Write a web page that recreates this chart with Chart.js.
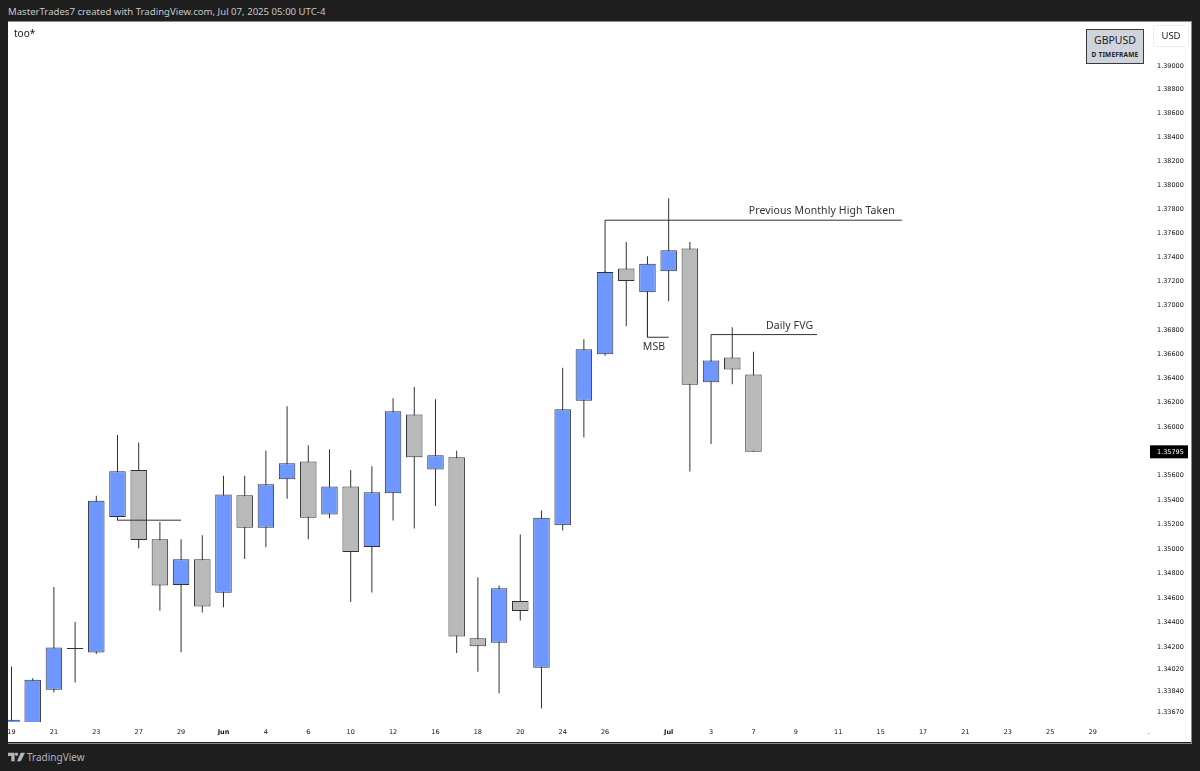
<!DOCTYPE html>
<html>
<head>
<meta charset="utf-8">
<title>GBPUSD D</title>
<script src="https://cdn.jsdelivr.net/npm/chart.js@4/dist/chart.umd.min.js"></script>
<style>
    html, body { margin: 0; padding: 0; width: 1200px; height: 771px; background: #1e1e1e; overflow: hidden; }
    #header { position: absolute; left: 8px; top: 5px; color: #c8c8c8; font: 9.6px 'Noto Sans', sans-serif; white-space: nowrap; }
    #frame { position: absolute; left: 8px; top: 22px; width: 1183px; height: 720px; background: #fff; overflow: hidden; }
    #edge { position: absolute; left: 8px; top: 21px; width: 1183px; height: 721px; border: 1px solid #8a8a8a; border-left: 0; pointer-events: none; }
    #chart { display: block; }
    #title { position: absolute; left: 14px; top: 26px; color: #131722; font: 10px 'Noto Sans', sans-serif; }
    #symbol { position: absolute; left: 1086px; top: 29px; width: 56px; height: 33px; background: #cfd3dc; border: 1px solid #3a3a3a; text-align: center; color: #222; }
    #symbol .pair { font: 10.5px/20px 'Noto Sans', sans-serif; }
    #symbol .tf { font: bold 6.5px/10px 'Noto Sans', sans-serif; letter-spacing: 0.2px; }
    #currency { position: absolute; left: 1153px; top: 25px; width: 34px; height: 20px; border: 1px solid #eee; border-radius: 3px; text-align: center; color: #222; font: 9.5px/20px 'Noto Sans', sans-serif; }
    #footer { position: absolute; left: 27px; top: 749px; color: #b2b5be; font: 10px/16px 'Noto Sans', sans-serif; }
    #logo { position: absolute; left: 8px; top: 752px; }
</style>
</head>
<body>
<div id="header">MasterTrades7 created with TradingView.com, Jul 07, 2025 05:00 UTC-4</div>
<div id="frame"><canvas id="chart" width="1183" height="720"></canvas></div>
<div id="edge"></div>
<div id="title">too*</div>
<div id="symbol"><div class="pair">GBPUSD</div><div class="tf">D TIMEFRAME</div></div>
<div id="currency">USD</div>
<svg id="logo" width="17" height="10" viewBox="0 0 36 20"><path fill="#b2b5be" d="M0 1h14v18H7V8H0zM16 1h20l-9 18h-8l8-18h-7a3.500 3.500 0 1 1-4 0z"/></svg>
<div id="footer">TradingView</div>
<script>
// one entry per trading day, May 19 to Jul 7 2025
const days = ['May 19', 'May 20', 'May 21', 'May 22', 'May 23', 'May 26', 'May 27', 'May 28', 'May 29', 'May 30',
    'Jun 2', 'Jun 3', 'Jun 4', 'Jun 5', 'Jun 6', 'Jun 9', 'Jun 10', 'Jun 11', 'Jun 12', 'Jun 13',
    'Jun 16', 'Jun 17', 'Jun 18', 'Jun 19', 'Jun 20', 'Jun 23', 'Jun 24', 'Jun 25', 'Jun 26', 'Jun 27',
    'Jun 30', 'Jul 1', 'Jul 2', 'Jul 3', 'Jul 4', 'Jul 7'];
const opens = [1.33300, 1.33550, 1.33855, 1.34193, 1.34157, 1.35260, 1.35645, 1.35079, 1.34707, 1.34916,
    1.34642, 1.35440, 1.35174, 1.35571, 1.35715, 1.35281, 1.35510, 1.35016, 1.35456, 1.36101,
    1.35649, 1.35751, 1.34274, 1.34236, 1.34575, 1.34033, 1.35194, 1.36214, 1.36599, 1.37308,
    1.37111, 1.37286, 1.37474, 1.36368, 1.36571, 1.36431];
const highs = [1.34043, 1.33948, 1.34689, 1.34407, 1.35434, 1.35934, 1.35871, 1.35221, 1.35079, 1.35112,
    1.35598, 1.35598, 1.35803, 1.36170, 1.35849, 1.35817, 1.35645, 1.35677, 1.36236, 1.36329,
    1.36228, 1.35803, 1.34770, 1.34702, 1.35117, 1.35314, 1.36486, 1.36723, 1.37288, 1.37529,
    1.37411, 1.37893, 1.37529, 1.36552, 1.36822, 1.36620];
const lows = [1.33200, 1.33450, 1.33833, 1.33914, 1.34146, 1.35232, 1.35006, 1.34496, 1.34160, 1.34482,
    1.34526, 1.34919, 1.35014, 1.35410, 1.35079, 1.35251, 1.34567, 1.34645, 1.35232, 1.35166,
    1.35350, 1.34154, 1.34002, 1.33828, 1.34417, 1.33704, 1.35150, 1.35912, 1.36587, 1.36830,
    1.37106, 1.37037, 1.35633, 1.35860, 1.36351, 1.35795];
const closes = [1.33613, 1.33936, 1.34198, 1.34185, 1.35393, 1.35636, 1.35074, 1.34702, 1.34916, 1.34531,
    1.35445, 1.35174, 1.35530, 1.35702, 1.35254, 1.35510, 1.34976, 1.35464, 1.36129, 1.35751,
    1.35767, 1.34287, 1.34209, 1.34680, 1.34494, 1.35254, 1.36145, 1.36640, 1.37280, 1.37205,
    1.37347, 1.37460, 1.36346, 1.36546, 1.36472, 1.35795];

const priceTicks = [1.39, 1.388, 1.386, 1.384, 1.382, 1.38, 1.378, 1.376, 1.374, 1.372, 1.37, 1.368, 1.366, 1.364,
    1.362, 1.36, 1.358, 1.356, 1.354, 1.352, 1.35, 1.348, 1.346, 1.344, 1.342, 1.3402, 1.3384, 1.3367];
const timeTickSlots = [0, 2, 4, 6, 8, 10, 12, 14, 16, 18, 20, 22, 24, 26, 28, 31, 33, 35, 37, 39, 41, 43, 45, 47, 49, 51, 53.65];
const timeTickLabels = ['19', '21', '23', '27', '29', 'Jun', '4', '6', '10', '12', '16', '18', '20', '24', '26',
    'Jul', '3', '7', '9', '11', '15', '17', '21', '23', '25', '29', '.'];

const lastPrice = 1.35795;
const monthlyHighLine = [[28, 1.37280], [28, 1.37710], [42, 1.37710]];
const fvgLine = [[33, 1.36546], [33, 1.36761], [38, 1.36761]];
const msbLine = [[30, 1.37111], [30, 1.36739], [31, 1.36739]];
const structureLine = [[5, 1.35235], [8, 1.35235]];

const BLUE = '#6e97ff';
const GREY = '#b9b9b9';
const INK = '#2f3137';
const FONT = "'Noto Sans', sans-serif";
const TICK_FONT = "'DejaVu Sans', sans-serif";

function bodyColor(i) {
    if (Math.abs(opens[i] - closes[i]) < 0.0002) {
        return INK;
    }
    return closes[i] >= opens[i] ? BLUE : GREY;
}

function drawingSet(points) {
    return {
        type: 'line',
        order: 0,
        data: points.map(p => ({ x: p[0], y: p[1] })),
        borderColor: INK,
        borderWidth: 1,
        pointRadius: 0,
        tension: 0,
    };
}

// price tag on the axis and the text notes on the drawings
const notesPlugin = {
    id: 'notes',
    afterDraw(chart) {
        const { ctx, scales } = chart;
        const x = scales.x;
        const y = scales.y;

        function note(text, slot, price, dx, dy) {
            ctx.fillText(text, x.getPixelForValue(slot) + dx, y.getPixelForValue(price) + dy);
        }

        ctx.save();
        ctx.font = '10.5px ' + FONT;
        ctx.letterSpacing = '0.1px';
        ctx.fillStyle = '#333';
        ctx.textAlign = 'center';
        ctx.textBaseline = 'middle';
        note('Previous Monthly High Taken', 42, 1.37710, -80, -9.5);
        note('Daily FVG', 38, 1.36761, -27.5, -9);
        note('MSB', 30, 1.36739, 6.5, 9.5);

        const tagY = y.getPixelForValue(lastPrice);
        ctx.fillStyle = '#000';
        ctx.fillRect(1142, tagY - 6.5, 38, 13);
        ctx.fillStyle = '#fff';
        ctx.font = '6.5px ' + TICK_FONT;
        ctx.letterSpacing = '0px';
        ctx.textAlign = 'left';
        ctx.fillText(lastPrice.toFixed(5), 1149, tagY + 0.5);
        ctx.restore();
    },
};

new Chart(document.getElementById('chart').getContext('2d'), {
    data: {
        datasets: [
            drawingSet(monthlyHighLine),
            drawingSet(fvgLine),
            drawingSet(msbLine),
            drawingSet(structureLine),
            {
                type: 'bar',
                order: 1,
                grouped: false,
                data: days.map((d, i) => ({ x: i, y: [opens[i], closes[i]] })),
                backgroundColor: days.map((d, i) => bodyColor(i)),
                borderColor: INK,
                borderWidth: 1,
                borderSkipped: false,
                inflateAmount: 0,
                barThickness: 16.5,
            },
            {
                type: 'bar',
                order: 2,
                grouped: false,
                data: days.map((d, i) => ({ x: i, y: [lows[i], highs[i]] })),
                backgroundColor: INK,
                borderWidth: 0,
                inflateAmount: 0,
                barThickness: 1,
            },
        ],
    },
    options: {
        responsive: false,
        animation: false,
        layout: { padding: 0 },
        plugins: {
            legend: { display: false },
            tooltip: { enabled: false },
        },
        scales: {
            x: {
                type: 'linear',
                offset: false,
                min: -0.165,
                max: 53.8,
                grid: { display: false, drawTicks: false },
                border: { display: false },
                afterBuildTicks(scale) {
                    scale.ticks = timeTickSlots.map(v => ({ value: v }));
                },
                afterFit(scale) {
                    scale.height = 20;
                    scale.paddingLeft = 0;
                    scale.paddingRight = 0;
                },
                ticks: {
                    autoSkip: false,
                    maxRotation: 0,
                    padding: 6,
                    color: '#111',
                    font(ctx) {
                        const label = timeTickLabels[ctx.index];
                        return {
                            family: TICK_FONT,
                            size: 6.5,
                            weight: label === 'Jun' || label === 'Jul' ? 'bold' : 'normal',
                        };
                    },
                    callback(value, index) {
                        return timeTickLabels[index];
                    },
                },
            },
            y: {
                type: 'logarithmic',
                position: 'right',
                min: 1.33595,
                max: 1.3937,
                grid: { display: false, drawTicks: false },
                border: { display: false },
                afterBuildTicks(scale) {
                    scale.ticks = priceTicks.map(v => ({ value: v }));
                },
                afterFit(scale) {
                    scale.width = 39;
                    scale.paddingTop = 0;
                    scale.paddingBottom = 0;
                },
                ticks: {
                    autoSkip: false,
                    padding: 5,
                    color: '#111',
                    font: { family: TICK_FONT, size: 6.5 },
                    callback(value) {
                        return Number(value).toFixed(5);
                    },
                },
            },
        },
    },
    plugins: [notesPlugin],
});
</script>
</body>
</html>
